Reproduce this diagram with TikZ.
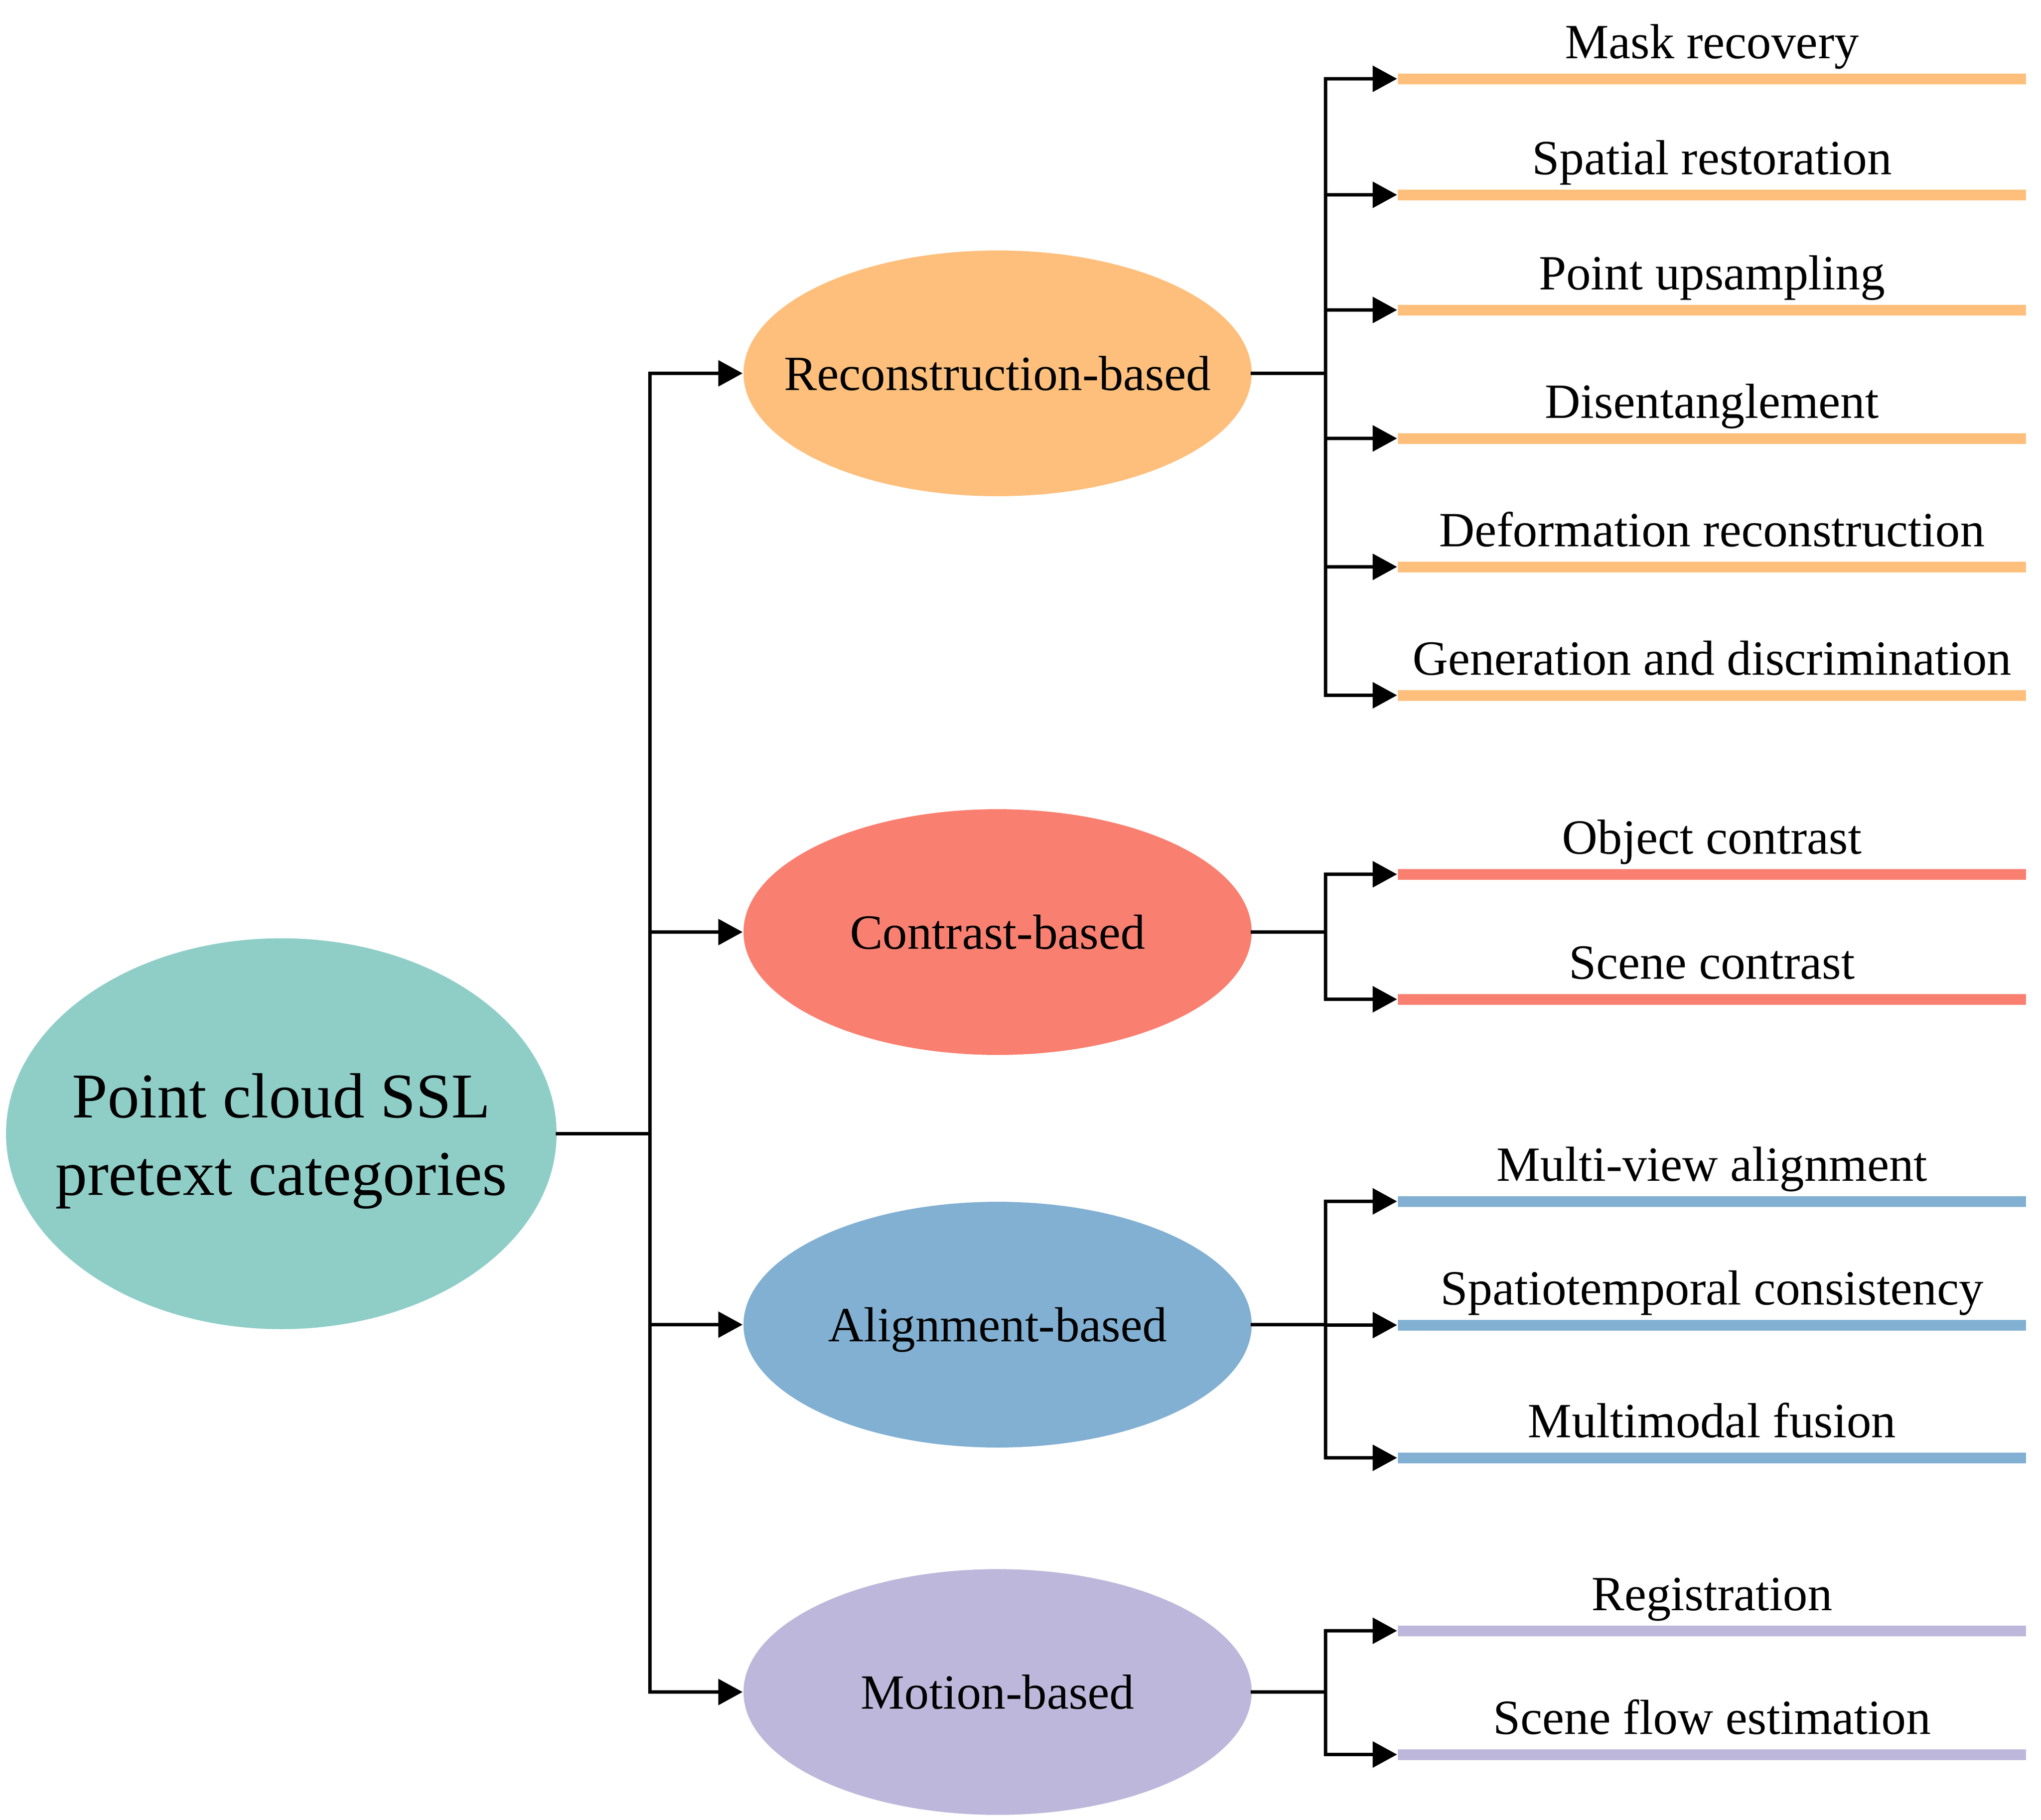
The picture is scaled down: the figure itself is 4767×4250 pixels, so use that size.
\documentclass[tikz,border=0pt]{standalone}
\usepackage{fontspec}
\setmainfont{Liberation Serif}
\usetikzlibrary{arrows.meta,shapes.geometric}
\definecolor{cteal}{HTML}{8FCEC7}
\definecolor{corange}{HTML}{FFBF7C}
\definecolor{cred}{HTML}{F98070}
\definecolor{cblue}{HTML}{82B0D2}
\definecolor{cpurple}{HTML}{BDB8DB}
\newcommand{\zerow}[1]{\makebox[0pt][c]{#1}}
\begin{document}
\begin{tikzpicture}[x=0.1pt,y=-0.1pt,
  conn/.style={line width=0.8pt, draw=black, line cap=rect},
  arr/.style={line width=0.8pt, draw=black, -{Triangle[length=5.7pt,width=6pt]}},
  catnode/.style={ellipse, minimum width=118.7pt, minimum height=57.4pt, inner sep=0pt,
    font=\fontsize{11.5}{13.8}\selectfont, text height=7.8pt, text depth=0pt},
  barnode/.style={rectangle, inner sep=0pt, minimum width=146.7pt, minimum height=2.5pt},
  lbl/.style={anchor=base, inner sep=0pt, font=\fontsize{11.5}{13.8}\selectfont},
  mainlbl/.style={anchor=base, inner sep=0pt, font=\fontsize{14.9}{18.1}\selectfont}
]
\useasboundingbox (0,0) rectangle (4767,4250);

% root
\node[ellipse, fill=cteal, minimum width=128.6pt, minimum height=91.3pt, inner sep=0pt] (main) at (657,2648) {};
\node[mainlbl] (mt1) at (657,2610) {Point cloud SSL};
\node[mainlbl] (mt2) at (657,2791) {pretext categories};

% categories
\node[catnode, fill=corange] (rec) at (2330,872) {\zerow{Reconstruction-based}};
\node[catnode, fill=cred] (con) at (2330,2177) {\zerow{Contrast-based}};
\node[catnode, fill=cblue] (ali) at (2330,3094) {\zerow{Alignment-based}};
\node[catnode, fill=cpurple] (mot) at (2330,3952) {\zerow{Motion-based}};

% trunk
\coordinate (tj) at (1518,2648);
\draw[conn] (main.east) -- (tj);
\draw[conn] (rec.west -| tj) -- (mot.west -| tj);
\foreach \c in {rec,con,ali,mot}{
  \draw[arr] (\c.west -| tj) -- (\c.west);
}

% leaves
\foreach \n/\y/\col/\t in {
  r1/184/corange/Mask recovery,
  r2/455/corange/Spatial restoration,
  r3/724/corange/Point upsampling,
  r4/1024/corange/Disentanglement,
  r5/1324/corange/Deformation reconstruction,
  r6/1624/corange/Generation and discrimination,
  c1/2042/cred/Object contrast,
  c2/2334/cred/Scene contrast,
  a1/2806/cblue/Multi-view alignment,
  a2/3095/cblue/Spatiotemporal consistency,
  a3/3405/cblue/Multimodal fusion,
  m1/3809/cpurple/Registration,
  m2/4098/cpurple/Scene flow estimation}{
  \node[barnode, fill=\col] (\n) at (3998.5,\y) {};
  \node[lbl] (\n t) at ([yshift=4.8pt]\n.center) {\t};
}

% sub-trunks
\coordinate (rj) at (3096,872);
\coordinate (cj) at (3096,2177);
\coordinate (aj) at (3096,3094);
\coordinate (mj) at (3096,3952);
\draw[conn] (rec.east) -- (rj);
\draw[conn] (con.east) -- (cj);
\draw[conn] (ali.east) -- (aj);
\draw[conn] (mot.east) -- (mj);
\draw[conn] (r1.west -| rj) -- (r6.west -| rj);
\draw[conn] (c1.west -| cj) -- (c2.west -| cj);
\draw[conn] (a1.west -| aj) -- (a3.west -| aj);
\draw[conn] (m1.west -| mj) -- (m2.west -| mj);
\foreach \n/\j in {r1/rj,r2/rj,r3/rj,r4/rj,r5/rj,r6/rj,c1/cj,c2/cj,a1/aj,a2/aj,a3/aj,m1/mj,m2/mj}{
  \draw[arr] (\n.west -| \j) -- (\n.west);
}
\end{tikzpicture}
\end{document}
